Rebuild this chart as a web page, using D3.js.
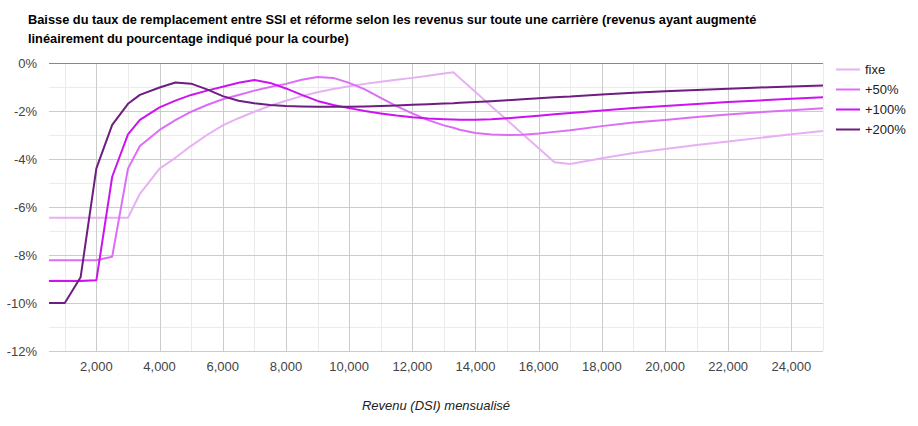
<!DOCTYPE html>
<html>
<head>
<meta charset="utf-8">
<script src="https://cdn.jsdelivr.net/npm/d3@7"></script>
<style>
body{margin:0;background:#fff;}
text{font-family:"Liberation Sans",Arial,sans-serif;}
</style>
</head>
<body>
<script>
// data (revenu mensuel -> baisse du taux en %)
var revenus = [500,1000,1500,2000,2500,3000,3377,4000,4500,5000,5500,6000,6500,7000,7500,8000,8500,9000,9500,10000,10500,11000,11500,12000,12500,13000,13300,13500,14000,14500,15000,15500,16000,16500,17000,18000,19000,20000,21000,22000,23000,24000,25000];

var fixe = [-6.45,-6.45,-6.45,-6.45,-6.45,-6.45,-5.45,-4.4,-3.95,-3.45,-3.0,-2.6,-2.3,-2.03,-1.78,-1.57,-1.38,-1.22,-1.08,-0.97,-0.87,-0.78,-0.7,-0.62,-0.53,-0.44,-0.39,-0.62,-1.21,-1.8,-2.38,-2.97,-3.55,-4.14,-4.21,-3.97,-3.75,-3.58,-3.42,-3.27,-3.12,-2.97,-2.83];
var plus50 = [-8.22,-8.22,-8.22,-8.22,-8.07,-4.4,-3.46,-2.79,-2.38,-2.03,-1.75,-1.51,-1.33,-1.15,-1.0,-0.87,-0.7,-0.58,-0.62,-0.83,-1.1,-1.45,-1.8,-2.1,-2.38,-2.6,-2.7,-2.78,-2.92,-2.98,-3.0,-2.99,-2.94,-2.87,-2.8,-2.63,-2.48,-2.37,-2.25,-2.15,-2.05,-1.97,-1.89];
var plus100 = [-9.08,-9.08,-9.08,-9.05,-4.74,-2.97,-2.37,-1.85,-1.57,-1.33,-1.15,-0.99,-0.82,-0.71,-0.83,-1.06,-1.33,-1.58,-1.75,-1.88,-2.0,-2.1,-2.19,-2.26,-2.31,-2.34,-2.35,-2.36,-2.36,-2.34,-2.3,-2.25,-2.2,-2.14,-2.08,-1.98,-1.88,-1.79,-1.71,-1.63,-1.56,-1.49,-1.43];
var plus200 = [-10.0,-10.0,-8.93,-4.39,-2.58,-1.7,-1.33,-1.02,-0.81,-0.86,-1.1,-1.38,-1.57,-1.68,-1.75,-1.79,-1.81,-1.82,-1.82,-1.82,-1.81,-1.79,-1.77,-1.74,-1.72,-1.69,-1.68,-1.66,-1.63,-1.59,-1.55,-1.51,-1.47,-1.43,-1.4,-1.31,-1.24,-1.18,-1.12,-1.07,-1.02,-0.98,-0.94];

var seriesNames = ["fixe","+50%","+100%","+200%"];
var seriesColors = ["#e8b0f4","#dc6ef5","#cb14f0","#6e1d80"];

var xTicks = [2000,4000,6000,8000,10000,12000,14000,16000,18000,20000,22000,24000];
var xMinor = [1000,3000,5000,7000,9000,11000,13000,15000,17000,19000,21000,23000,25000];
var yTicks = [0,-2,-4,-6,-8,-10,-12];
var yMinor = [-1,-3,-5,-7,-9,-11];

var titleLines = ["Baisse du taux de remplacement entre SSI et réforme selon les revenus sur toute une carrière (revenus ayant augmenté",
	"linéairement du pourcentage indiqué pour la courbe)"];
var xTitle = "Revenu (DSI) mensualisé";

main = function(){
	var W = 918, H = 426;
	var left = 49, right = 823, top = 63, bottom = 351;

	var svg = d3.select("body").append("svg")
		.attr("width",W)
		.attr("height",H);

	var x = d3.scaleLinear().domain([500,25000]).range([left,right]);
	var y = d3.scaleLinear().domain([0,-12]).range([top,bottom]);

	//gridlines
	var grid = svg.append("g");
	grid.selectAll(".vmin").data(xMinor).enter().append("line")
		.attr("x1",d=>Math.round(x(d))+0.5).attr("x2",d=>Math.round(x(d))+0.5)
		.attr("y1",top).attr("y2",bottom)
		.attr("stroke","#ebebeb");
	grid.selectAll(".hmin").data(yMinor).enter().append("line")
		.attr("y1",d=>Math.round(y(d))+0.5).attr("y2",d=>Math.round(y(d))+0.5)
		.attr("x1",left).attr("x2",right)
		.attr("stroke","#ebebeb");
	grid.selectAll(".vmaj").data(xTicks).enter().append("line")
		.attr("x1",d=>Math.round(x(d))+0.5).attr("x2",d=>Math.round(x(d))+0.5)
		.attr("y1",top).attr("y2",bottom)
		.attr("stroke","#cccccc");
	grid.selectAll(".hmaj").data(yTicks.filter(d=>d!=0)).enter().append("line")
		.attr("y1",d=>Math.round(y(d))+0.5).attr("y2",d=>Math.round(y(d))+0.5)
		.attr("x1",left).attr("x2",right)
		.attr("stroke","#cccccc");
	grid.append("line")
		.attr("x1",left).attr("x2",right)
		.attr("y1",Math.round(y(0))+0.5).attr("y2",Math.round(y(0))+0.5)
		.attr("stroke","#888888");

	//axis labels
	var fmt = d3.format(",");
	svg.selectAll(".xl").data(xTicks).enter().append("text")
		.attr("x",d=>x(d)).attr("y",371)
		.attr("text-anchor","middle")
		.attr("font-size","13px").attr("fill","#444")
		.text(d=>fmt(d));
	svg.selectAll(".yl").data(yTicks).enter().append("text")
		.attr("x",37).attr("y",d=>y(d)+4.5)
		.attr("text-anchor","end")
		.attr("font-size","13px").attr("fill","#444")
		.text(d=>d+"%");

	svg.append("text")
		.attr("x",(left+right)/2).attr("y",410)
		.attr("text-anchor","middle")
		.attr("font-size","13px").attr("font-style","italic").attr("fill","#222")
		.text(xTitle);

	svg.selectAll(".title").data(titleLines).enter().append("text")
		.attr("x",28).attr("y",(d,i)=>24+i*19)
		.attr("font-size","12.8px").attr("font-weight","bold").attr("fill","#000")
		.text(d=>d);

	//lines
	var all = [fixe,plus50,plus100,plus200];
	var line = d3.line()
		.x((d,i)=>x(revenus[i]))
		.y(d=>y(d));
	svg.append("g").selectAll("path").data(all).enter().append("path")
		.attr("d",d=>line(d))
		.attr("fill","none")
		.attr("stroke",(d,i)=>seriesColors[i])
		.attr("stroke-width",2)
		.attr("stroke-linejoin","round");

	//legend
	var leg = svg.append("g").selectAll("g").data(seriesNames).enter().append("g")
		.attr("transform",(d,i)=>"translate(836,"+(69.5+i*20)+")");
	leg.append("line")
		.attr("x1",0).attr("x2",24)
		.attr("stroke",(d,i)=>seriesColors[i])
		.attr("stroke-width",2);
	leg.append("text")
		.attr("x",29).attr("y",4.5)
		.attr("font-size","13px").attr("fill","#222")
		.text(d=>d);
};

main();
</script>
</body>
</html>
